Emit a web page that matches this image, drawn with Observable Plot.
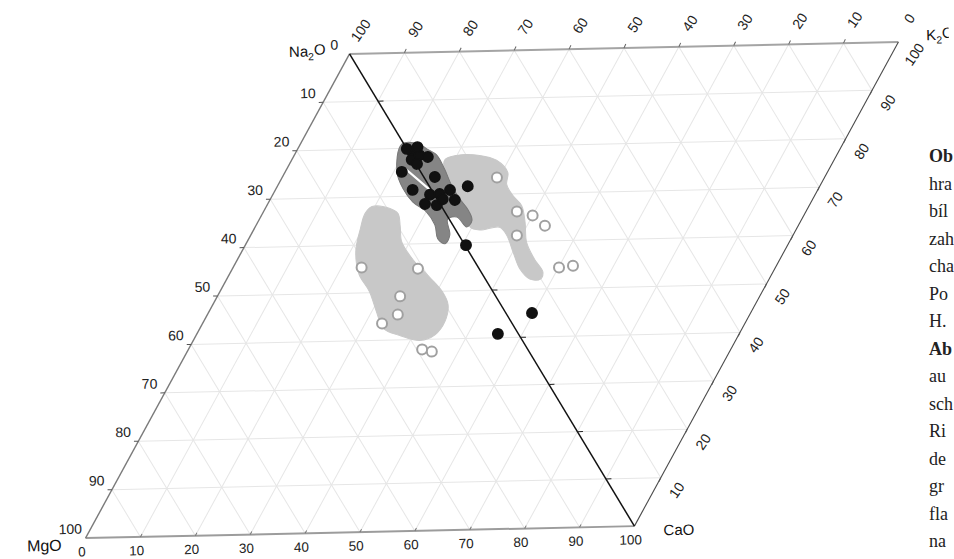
<!DOCTYPE html>
<html><head><meta charset="utf-8">
<script src="https://cdn.jsdelivr.net/npm/d3@7"></script>
<script src="https://cdn.jsdelivr.net/npm/@observablehq/plot@0.6"></script>
<style>
html,body{margin:0;padding:0;background:#fff;overflow:hidden;width:954px;height:559px;}
#chart{position:absolute;left:0;top:0;width:954px;height:559px;}
#chart svg{transform:rotate(-1.25deg);transform-origin:477px 280px;}
#caption{position:absolute;left:929px;top:143px;font-family:"Liberation Serif","DejaVu Serif",serif;font-size:18px;line-height:27.5px;color:#222;white-space:nowrap;}
#caption b{font-weight:bold;}
</style></head><body>
<div id="chart"></div>
<div id="caption">
<div><b>Ob</b></div>
<div>hra</div>
<div>bíl</div>
<div>zah</div>
<div>cha</div>
<div>Po</div>
<div>H.</div>
<div><b>Ab</b></div>
<div>au</div>
<div>sch</div>
<div>Ri</div>
<div>de</div>
<div>gr</div>
<div>fla</div>
<div>na</div>
</div>
<script>
// ---- axis ticks ----
const ticks = [0,10,20,30,40,50,60,70,80,90,100];
const inner = [10,20,30,40,50,60,70,80,90];
const rightTicks = [10,20,30,40,50,60,70,80,90,100];

// ---- vertices (u = bottom-axis reading MgO→CaO, v = right-axis reading CaO→K2O) ----
const vertexNames = ["Na₂O","K₂O","MgO","CaO"];
const vertexU = [0,100,0,100];
const vertexV = [100,100,0,0];

// ---- filled (black) samples ----
const blackU = [21.5,22.1,23.1,24.8,23.5,21.5,28.1,25.3,35.1,29.0,30.7,32.2,34.1,29.0,31.3,31.8,40.7,59.7,55.5,20.1,21.9];
const blackV = [79.2,77.6,78.5,78.1,76.7,75.1,73.9,71.3,71.8,70.2,70.3,71.1,69.0,68.3,68.0,69.2,59.5,45.0,40.8,79.9,80.2];

// ---- open (white) samples ----
const openU = [39.6,46.7,50.0,53.3,49.1,60.1,62.5,34.2,23.7,33.7,35.1,33.1,43.1,45.1];
const openV = [73.5,66.3,65.4,63.2,61.3,54.4,54.7,54.8,55.3,49.1,45.3,43.5,37.9,37.4];

// ---- light grey field, upper (K2O) triangle ----
const fieldRightU = [28.2,29.9,34.2,37.8,41.1,42.1,44.3,47.0,49.3,51.6,54.8,57.6,57.8,55.9,53.1,50.1,47.2,45.1,41.7,39.6,37.7,35.2,32.2,29.4];
const fieldRightV = [77.4,78.3,78.2,77.1,74.5,72.0,69.7,67.5,64.0,59.8,56.2,53.5,52.0,52.1,54.2,57.8,61.4,63.1,62.6,63.3,66.4,68.5,71.7,74.9];

// ---- light grey field, lower (MgO) triangle ----
const fieldLeftU = [19.5,23.0,25.0,26.7,28.5,32.4,37.3,41.0,43.4,44.5,44.0,41.8,37.6,33.8,30.8,27.5,23.9,21.0,19.6,18.9];
const fieldLeftV = [68.0,67.5,66.4,63.7,60.5,56.7,52.9,49.9,47.1,43.6,40.9,39.8,40.9,42.5,46.1,50.3,53.9,58.7,63.3,66.6];

// ---- dark grey field across the Na2O–CaO join ----
const fieldDarkU = [18.7,22.0,23.8,26.2,29.1,32.0,34.9,37.4,39.3,39.0,36.2,34.7,36.7,36.7,34.9,32.9,30.1,26.5,23.4,20.6];
const fieldDarkV = [80.9,80.8,79.8,78.5,75.5,72.1,69.2,67.0,64.7,63.3,65.4,65.0,61.7,59.9,60.9,63.9,66.6,68.8,71.6,75.1];

// white gap inside the dark field
const gapU = [21.9,28.5];
const gapV = [75.7,71.2];

// ---- helpers: parallelogram (u,v) -> cartesian ----
const X = (u,v) => u + 0.5*v;
const pts = (U,V) => U.map((u,i) => ({x: X(u,V[i]), y: V[i]}));
const seg = (u1,v1,u2,v2) => ({x1: X(u1,v1), y1: v1, x2: X(u2,v2), y2: v2});

// grid lines
const grid = [];
for (const k of inner) {
  grid.push(seg(0,k,100,k));      // horizontal
  grid.push(seg(k,0,k,100));      // parallel to MgO–Na2O
}
for (let k = 10; k <= 190; k += 10) {
  if (k === 100) continue;
  if (k < 100) grid.push(seg(k,0,0,k));
  else grid.push(seg(100,k-100,k-100,100));
}

const edgeBottom = [seg(0,0,100,0)];
const edgeTop = [seg(0,100,100,100)];
const edgeLeft = [seg(0,0,0,100)];
const edgeRight = [seg(100,0,100,100)];
const diagonal = [seg(0,100,100,0)];

// small ticks
const tickLeft = inner.map(t => ({x1: X(0,t), y1: t, x2: X(0,t) - 0.8, y2: t}));
const tickTop = inner.map(t => ({x1: X(t,100), y1: 100, x2: X(t,100) + 0.35, y2: 100.8}));
const tickRight = inner.map(t => ({x1: X(100,t), y1: t, x2: X(100,t) - 0.35, y2: t - 0.8}));
const tickBottom = inner.map(t => ({x1: X(t,0), y1: 0, x2: X(t,0) + 0.3, y2: 0.6}));
const tickDiag = inner.map(t => ({x1: X(100-t,t), y1: t, x2: X(100-t,t) + 1.0, y2: t}));

const labLeft = ticks.map(t => ({x: X(0,100-t), y: 100-t, t}));
const labBottom = ticks.map(t => ({x: X(t,0), y: 0, t}));
const labTop = ticks.map(t => ({x: X(100-t,100), y: 100, t}));
const labRight = rightTicks.map(t => ({x: X(100,t), y: t, t}));
const verts = vertexNames.map((n,i) => ({x: X(vertexU[i],vertexV[i]), y: vertexV[i], n}));

const link = (data, o) => Plot.link(data, {x1:"x1", y1:"y1", x2:"x2", y2:"y2", ...o});

const chart = Plot.plot({
  width: 954,
  height: 559,
  x: {domain: [0,150], range: [79.5, 903], axis: null},
  y: {domain: [0,100], range: [529, 50.7], axis: null},
  style: {fontFamily: "'Liberation Sans', Arial, sans-serif", fontSize: "14px", background: "transparent", color: "#222"},
  marks: [
    link(grid, {stroke: "#e6e6e6", strokeWidth: 1}),
    Plot.line(pts(fieldRightU, fieldRightV), {x:"x", y:"y", curve: "catmull-rom-closed", fill: "#c8c8c8", stroke: "#c8c8c8", strokeWidth: 1}),
    Plot.line(pts(fieldLeftU, fieldLeftV), {x:"x", y:"y", curve: "catmull-rom-closed", fill: "#c8c8c8", stroke: "#c8c8c8", strokeWidth: 1}),
    Plot.line(pts(fieldDarkU, fieldDarkV), {x:"x", y:"y", curve: "catmull-rom-closed", fill: "#858585", stroke: "#777", strokeWidth: 1}),
    Plot.line(pts(gapU, gapV), {x:"x", y:"y", stroke: "white", strokeWidth: 2.2}),
    link(edgeBottom, {stroke: "#9c9c9c", strokeWidth: 2}),
    link(edgeTop, {stroke: "#a4a4a4", strokeWidth: 2}),
    link(edgeLeft, {stroke: "#7a7a7a", strokeWidth: 1.4}),
    link(edgeRight, {stroke: "#4a4a4a", strokeWidth: 1.1}),
    link(diagonal, {stroke: "#111", strokeWidth: 1.5}),
    link(tickLeft, {stroke: "#555", strokeWidth: 1}),
    link(tickTop, {stroke: "#666", strokeWidth: 1}),
    link(tickRight, {stroke: "#555", strokeWidth: 1}),
    link(tickBottom, {stroke: "#777", strokeWidth: 1}),
    link(tickDiag, {stroke: "#222", strokeWidth: 1}),
    Plot.dot(pts(openU, openV), {x:"x", y:"y", r: 5, fill: "white", stroke: "#a0a0a0", strokeWidth: 2}),
    Plot.dot(pts(blackU, blackV), {x:"x", y:"y", r: 5.2, fill: "#111", stroke: "#111"}),
    Plot.text(labLeft, {x:"x", y:"y", text: d => String(d.t), dx: -15, dy: -9, fontSize: 14, fill: "#222"}),
    Plot.text(labBottom, {x:"x", y:"y", text: d => String(d.t), dx: -4, dy: 14, fontSize: 13.5, fill: "#222"}),
    Plot.text(labTop, {x:"x", y:"y", text: d => String(d.t), dx: 12, dy: -23, rotate: -54, fontSize: 14, fill: "#222"}),
    Plot.text(labRight, {x:"x", y:"y", text: d => String(d.t), dx: 16, dy: 13, rotate: -54, fontSize: 14, fill: "#222"}),
    Plot.text([verts[0]], {x:"x", y:"y", text:"n", textAnchor: "end", dx: -24, dy: -3, fontSize: 15, fill: "#111"}),
    Plot.text([verts[1]], {x:"x", y:"y", text:"n", textAnchor: "start", dx: 28, dy: -6, fontSize: 15, fill: "#111"}),
    Plot.text([verts[2]], {x:"x", y:"y", text:"n", textAnchor: "end", dx: -24, dy: 7, fontSize: 16, fill: "#111"}),
    Plot.text([verts[3]], {x:"x", y:"y", text:"n", textAnchor: "start", dx: 29, dy: 5, fontSize: 15, fill: "#111"})
  ]
});

// subscripts for oxide formulae
d3.select(chart).selectAll("text").each(function() {
  const t = this.textContent;
  if (t.includes("₂")) {
    const [a, b] = t.split("₂");
    const sel = d3.select(this);
    sel.text(null);
    sel.append("tspan").text(a);
    sel.append("tspan").attr("font-size", "0.68em").attr("dy", "0.35em").text("2");
    sel.append("tspan").attr("dy", "-0.35em").text(b);
  }
});

document.getElementById("chart").appendChild(chart);
</script>
</body></html>
